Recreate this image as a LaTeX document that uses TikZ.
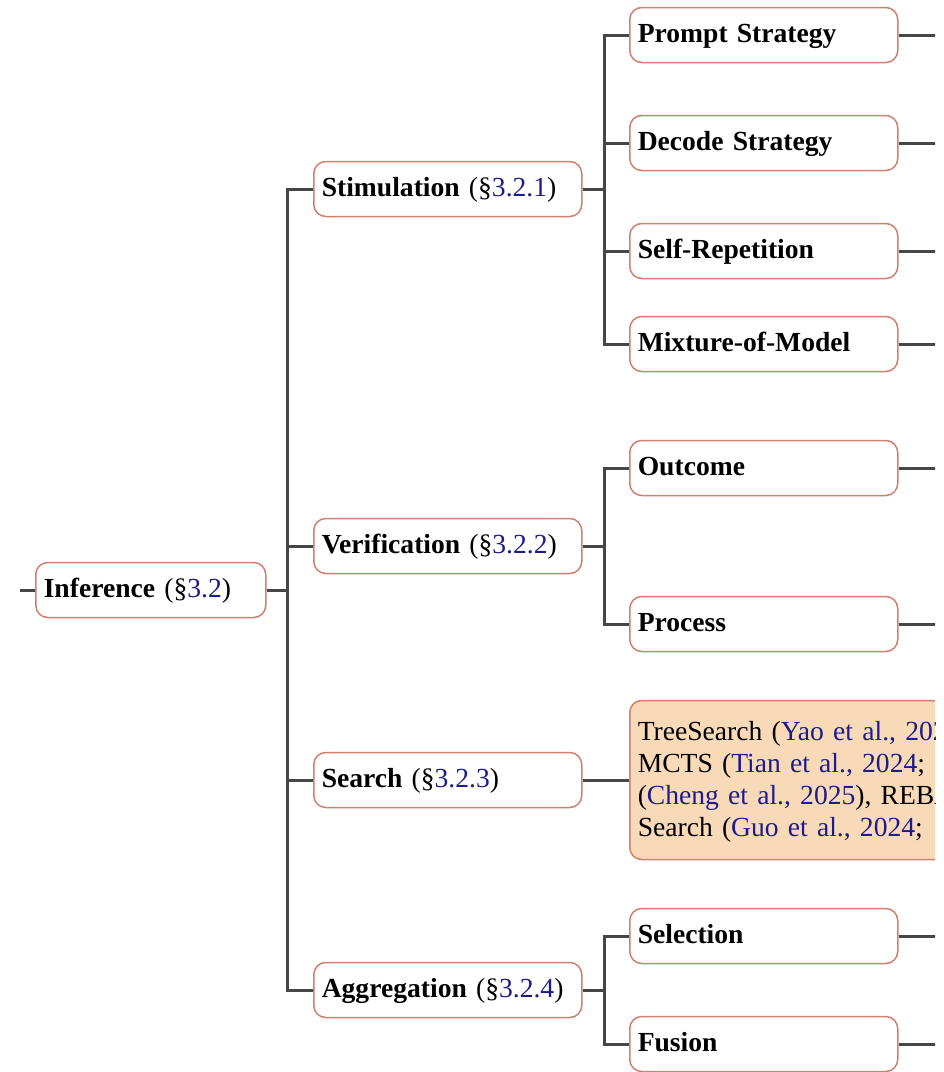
\documentclass[tikz,border=0pt]{standalone}
\usepackage{fontspec}
\setmainfont{Liberation Serif}
\definecolor{linkblue}{RGB}{28,28,140}
\definecolor{boxedge}{RGB}{208,128,112}
\definecolor{leaffill}{RGB}{249,218,184}
\definecolor{wire}{RGB}{70,70,70}
\newcommand{\secref}[1]{(\S\textcolor{linkblue}{#1})}
\newcommand{\citeblue}[1]{\textcolor{linkblue}{#1}}

\begin{document}
\begin{tikzpicture}[x=1pt,y=-1pt,
  every node/.style={font=\fontsize{27.6}{31.7}\selectfont},
  catbox/.style={draw=boxedge, line width=1.5pt, rounded corners=12pt,
    fill=white, anchor=west, minimum height=55pt,
    text height=20pt, text depth=5pt, inner xsep=8pt, inner ysep=0pt,
    align=left, text width=#1},
  leafbox/.style={draw=boxedge, line width=1.5pt, rounded corners=12pt,
    fill=leaffill, anchor=west, minimum height=159pt,
    inner xsep=8pt, inner ysep=0pt, align=left, text width=800pt},
  wireline/.style={draw=wire, line width=3pt}]

\useasboundingbox (0,0) rectangle (944,1072);

\begin{scope}
\clip (0,0) rectangle (935,1072);

% root
\node[catbox=214pt] (inf) at (35,590) {\textbf{Inference} \secref{3.2}};

% second level
\node[catbox=252pt] (stim) at (313,189) {\textbf{Stimulation} \secref{3.2.1}};
\node[catbox=252pt] (veri) at (313,546) {\textbf{Verification} \secref{3.2.2}};
\node[catbox=252pt] (srch) at (313,780) {\textbf{Search} \secref{3.2.3}};
\node[catbox=252pt] (aggr) at (313,990) {\textbf{Aggregation} \secref{3.2.4}};

% third level
\node[catbox=252pt] (prompt) at (629,35)  {\textbf{Prompt Strategy}};
\node[catbox=252pt] (decode) at (629,143) {\textbf{Decode Strategy}};
\node[catbox=252pt] (selfrep) at (629,251) {\textbf{Self-Repetition}};
\node[catbox=252pt] (mixture) at (629,344) {\textbf{Mixture-of-Model}};
\node[catbox=252pt] (outcome) at (629,468) {\textbf{Outcome}};
\node[catbox=252pt] (process) at (629,624) {\textbf{Process}};
\node[catbox=252pt] (select) at (629,936) {\textbf{Selection}};
\node[catbox=252pt] (fusion) at (629,1044) {\textbf{Fusion}};

% leaf for search
\node[leafbox] (srchleaf) at (629,780) {\rule{0pt}{23pt}TreeSearch (\citeblue{Yao et al., 2023}),\\
MCTS (\citeblue{Tian et al., 2024}; \\
(\citeblue{Cheng et al., 2025}), REBASE\\
Search (\citeblue{Guo et al., 2024}; \rule[-6pt]{0pt}{6pt}};

% free ends
\coordinate (rootin) at (20,590);
\foreach \n in {prompt,decode,selfrep,mixture,outcome,process,select,fusion}
  \coordinate (\n-out) at ([xshift=60pt]\n.east);

% connectors
\draw[wireline] (rootin) -- (inf.west);
\foreach \c in {stim,veri,srch,aggr}
  \draw[wireline] (inf.east) -- ++(21,0) |- (\c.west);
\foreach \c in {prompt,decode,selfrep,mixture}
  \draw[wireline] (stim.east) -- ++(22,0) |- (\c.west);
\foreach \c in {outcome,process}
  \draw[wireline] (veri.east) -- ++(22,0) |- (\c.west);
\foreach \c in {select,fusion}
  \draw[wireline] (aggr.east) -- ++(22,0) |- (\c.west);
\draw[wireline] (srch.east) -- (srchleaf.west);
\foreach \n in {prompt,decode,selfrep,mixture,outcome,process,select,fusion}
  \draw[wireline] (\n.east) -- (\n-out);
\end{scope}
\end{tikzpicture}
\end{document}
